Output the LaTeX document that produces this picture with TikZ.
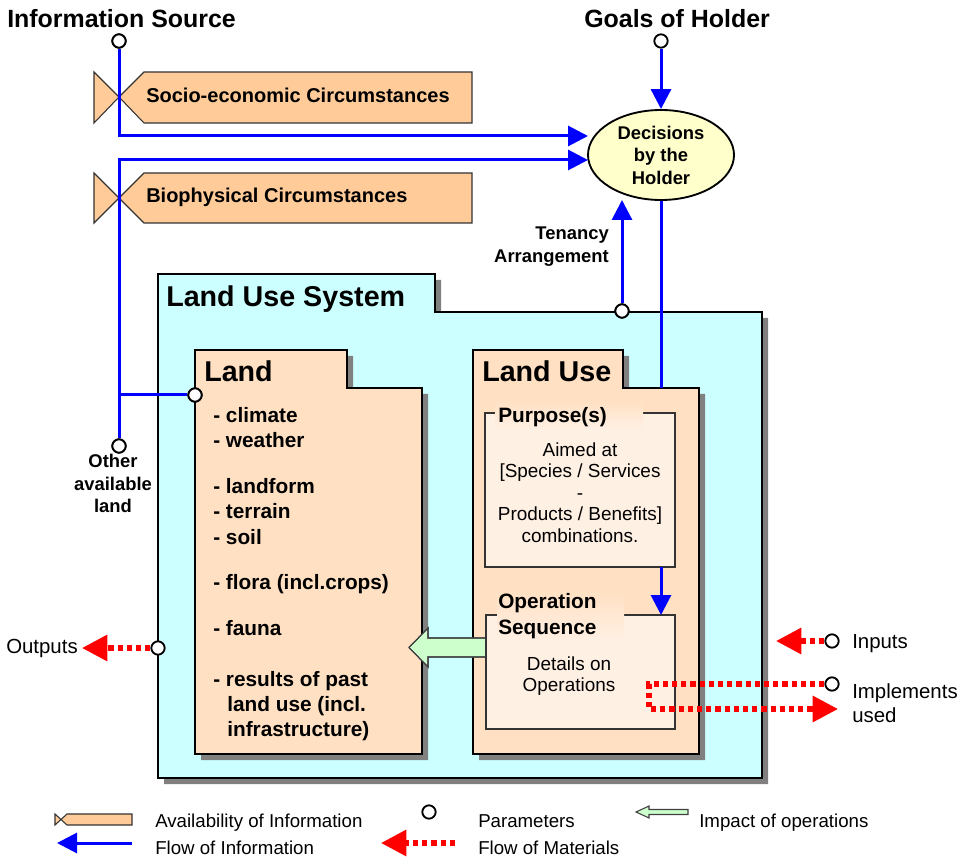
\documentclass[tikz,border=0pt]{standalone}
\usepackage{fontspec}
\setmainfont{Liberation Sans}
\usetikzlibrary{arrows.meta,shapes.geometric}
\definecolor{peach}{HTML}{FFE0C2}
\definecolor{orangebox}{HTML}{FFCC99}
\definecolor{cyanbg}{HTML}{CCFFFF}
\definecolor{lightpeach}{HTML}{FFF0E4}
\definecolor{ellfill}{HTML}{FFFFCC}
\definecolor{greenfill}{HTML}{CCFFCC}
\definecolor{shadowgray}{HTML}{808080}
\definecolor{infoblue}{HTML}{0000FF}
\definecolor{matred}{HTML}{FF0000}
\newcommand\fbig{\fontsize{18.7}{22}\selectfont\bfseries}
\newcommand\fhead{\fontsize{21.5}{25}\selectfont\bfseries}
\newcommand\fcirc{\fontsize{15}{18}\selectfont\bfseries}
\newcommand\fitem{\fontsize{15.6}{18.75}\selectfont\bfseries}
\newcommand\flab{\fontsize{13.8}{16.9}\selectfont\bfseries}
\newcommand\fbody{\fontsize{14.2}{16.1}\selectfont}
\newcommand\fside{\fontsize{15.3}{18}\selectfont}
\newcommand\flegend{\fontsize{14}{17}\selectfont}
\begin{document}
\begin{tikzpicture}[x=0.75pt,y=-0.75pt,
  txtw/.style={inner sep=0pt,anchor=base west},
  txtc/.style={inner sep=0pt,anchor=base},
  txte/.style={inner sep=0pt,anchor=base east},
  param/.style={circle,draw,fill=white,line width=1.4pt,minimum size=10pt,inner sep=0pt},
  info/.style={draw=infoblue,line width=2.25pt},
  infoarrow/.style={info,-{Triangle[length=15pt,width=15pt]}},
  mat/.style={draw=matred,line width=3.9pt,dash pattern=on 3.9pt off 3pt},
  matarrow/.style={mat,-{Triangle[length=19pt,width=19pt]}},
  folder/.style={fill=#1,draw=black,line width=1.1pt},
  shadowfill/.style={fill=shadowgray},
  avail/.style={fill=orangebox,draw=black!80,line width=0.8pt},
  inner/.style={fill=lightpeach,draw=black!80,line width=1pt},
  impact/.style={fill=greenfill,draw=black!75,line width=0.8pt},
  ]
\useasboundingbox (0,0) rectangle (968,859);

% ---------- Land Use System folder ----------
\fill[shadowfill,shift={(6,6)}] (158,274) -- (435,274) -- (435,312) -- (762,312) -- (762,778) -- (158,778) -- cycle;
\draw[folder=cyanbg] (158,274) -- (435,274) -- (435,312) -- (762,312) -- (762,778) -- (158,778) -- cycle;
\node[txtw] (lustitle) at (166,307) {\fhead Land Use System};

% ---------- Land folder ----------
\fill[shadowfill,shift={(6,6)}] (195,350) -- (347,350) -- (347,388) -- (422,388) -- (422,754) -- (195,754) -- cycle;
\draw[folder=peach] (195,350) -- (347,350) -- (347,388) -- (422,388) -- (422,754) -- (195,754) -- cycle;
\node[txtw] (landtitle) at (204,382) {\fhead Land};
\node[txtw] (l1) at (213,422) {\fitem - climate};
\node[txtw] (l2) at (213,447) {\fitem - weather};
\node[txtw] (l3) at (213,493) {\fitem - landform};
\node[txtw] (l4) at (213,518) {\fitem - terrain};
\node[txtw] (l5) at (213,544) {\fitem - soil};
\node[txtw] (l6) at (213,589) {\fitem - flora (incl.crops)};
\node[txtw] (l7) at (213,635) {\fitem - fauna};
\node[txtw] (l8) at (213,686) {\fitem - results of past};
\node[txtw] (l9) at (227,711) {\fitem land use (incl.};
\node[txtw] (l10) at (227,736) {\fitem infrastructure)};

% ---------- Land Use folder ----------
\fill[shadowfill,shift={(6,6)}] (473,350) -- (623,350) -- (623,388) -- (699,388) -- (699,754) -- (473,754) -- cycle;
\draw[folder=peach] (473,350) -- (623,350) -- (623,388) -- (699,388) -- (699,754) -- (473,754) -- cycle;
\node[txtw] (lutitle) at (482,382) {\fhead Land Use};

% impact arrow (behind operation box)
\fill[impact] (486,638) -- (428,638) -- (428,628) -- (409,647.5) -- (428,667) -- (428,657) -- (486,657);
\draw[black!75,line width=0.8pt] (486,638) -- (428,638) -- (428,628) -- (409,647.5) -- (428,667) -- (428,657) -- (486,657);

% Purpose box
\draw[inner] (485,413) rectangle (675,567);
\fill[top color=peach,bottom color=lightpeach] (495,400) rectangle (643,429);
\node[txtw] (purptitle) at (498,422) {\fitem Purpose(s)};
\node[txtc] (p1) at (580,456) {\fbody Aimed at};
\node[txtc] (p2) at (580,477.5) {\fbody [Species / Services};
\node[txtc] (p3) at (580,499) {\fbody -};
\node[txtc] (p4) at (580,520.5) {\fbody Products / Benefits]};
\node[txtc] (p5) at (580,542) {\fbody combinations.};

% Operation box
\draw[inner] (486,615) rectangle (675,729);
\fill[top color=peach,bottom color=lightpeach] (497,590) rectangle (624,641);
\node[txtw] (op1) at (498,608) {\fitem Operation};
\node[txtw] (op2) at (498,634) {\fitem Sequence};
\node[txtc] (d1t) at (569,670) {\fbody Details on};
\node[txtc] (d2t) at (569,691) {\fbody Operations};

% ---------- Availability bow-ties ----------
\draw[avail] (94,72) -- (119,97) -- (94,123) -- cycle;
\draw[avail] (119,97) -- (144,72) -- (472,72) -- (472,123) -- (144,123) -- cycle;
\node[txtw] (socio) at (146,103) {\fcirc Socio-economic Circumstances};
\draw[avail] (94,173) -- (119,198) -- (94,223) -- cycle;
\draw[avail] (119,198) -- (144,173) -- (472,173) -- (472,223) -- (144,223) -- cycle;
\node[txtw] (bio) at (146,203) {\fcirc Biophysical Circumstances};

% ---------- Titles ----------
\node[txtw] (infosrcT) at (7,28) {\fbig Information Source};
\node[txtw] (goalsT) at (584,28) {\fbig Goals of Holder};

% ---------- Decision ellipse ----------
\node[ellipse,draw,fill=ellfill,line width=1.4pt,minimum width=109.5pt,minimum height=67.5pt,inner sep=0pt,align=center,font=\flab]
  (dec) at (661,155) {Decisions\\by the\\Holder};

% ---------- Parameter circles ----------
\node[param] (isrc) at (119,41) {};
\node[param] (goals) at (661,41) {};
\node[param] (other) at (119,446) {};
\node[param] (landpar) at (195,395) {};
\node[param] (tenpar) at (622,311) {};
\node[param] (outpar) at (158,648) {};
\node[param] (inpar) at (832,641) {};
\node[param] (implpar) at (832,684) {};

% ---------- coordinates ----------
\coordinate (d1) at (588,136);
\coordinate (d2) at (588,160);
\coordinate (jn) at (119,160);
\coordinate (br) at (119,395);
\coordinate (tentip) at (622,200);
\coordinate (luT) at (661,388);
\coordinate (purpB) at (661,567);
\coordinate (operT) at (661,615);
\coordinate (outtip) at (82,648);
\coordinate (intip) at (776,641);
\coordinate (c1) at (649,684);
\coordinate (c2) at (649,709);
\coordinate (impltip) at (838,709);

% ---------- information flows ----------
\draw[infoarrow] (isrc) |- (d1);
\draw[infoarrow] (other) -- (jn) -- (d2);
\draw[info] (br) -- (landpar);
\draw[infoarrow] (goals) -- (dec.north);
\draw[infoarrow] (tenpar) -- (tentip);
\draw[info] (dec.south) -- (luT);
\draw[infoarrow] (purpB) -- (operT);

% redraw circles over line ends
\node[param] at (isrc) {};
\node[param] at (other) {};
\node[param] at (landpar) {};
\node[param] at (tenpar) {};

% ---------- material flows ----------
\draw[matarrow] (outpar) -- (outtip);
\draw[matarrow] (inpar) -- (intip);
\draw[matarrow] (implpar) -- (c1) -- (c2) -- (impltip);

% ---------- side labels ----------
\node[txte] (ten1) at (609,240) {\flab Tenancy};
\node[txte] (ten2) at (609,263) {\flab Arrangement};
\node[txtc] (oth1) at (113,467) {\flab Other};
\node[txtc] (oth2) at (113,490) {\flab available};
\node[txtc] (oth3) at (113,512) {\flab land};
\node[txtw] (outT) at (6,653) {\fside Outputs};
\node[txtw] (inT) at (852,648) {\fside Inputs};
\node[txtw] (implT1) at (852,698) {\fside Implements};
\node[txtw] (implT2) at (852,722) {\fside used};

% ---------- legend ----------
\draw[avail] (55,814) -- (61,819.5) -- (55,825) -- cycle;
\draw[avail] (61,819.5) -- (67,814) -- (132,814) -- (132,825) -- (67,825) -- cycle;
\node[txtw] (lg1) at (155,827) {\flegend Availability of Information};
\node[param] (lgpar) at (429,812) {};
\node[txtw] (lg2) at (478,827) {\flegend Parameters};
\fill[impact] (688,809.5) -- (649,809.5) -- (649,806) -- (636,812) -- (649,818) -- (649,814.5) -- (688,814.5) -- cycle;
\node[txtw] (lg3) at (699,827) {\flegend Impact of operations};
\coordinate (lgb1) at (132,843);
\coordinate (lgb2) at (57,843);
\draw[infoarrow] (lgb1) -- (lgb2);
\node[txtw] (lg4) at (155,854) {\flegend Flow of Information};
\coordinate (lgr1) at (455,843);
\coordinate (lgr2) at (381,843);
\draw[matarrow] (lgr1) -- (lgr2);
\node[txtw] (lg5) at (478,854) {\flegend Flow of Materials};
\end{tikzpicture}
\end{document}
